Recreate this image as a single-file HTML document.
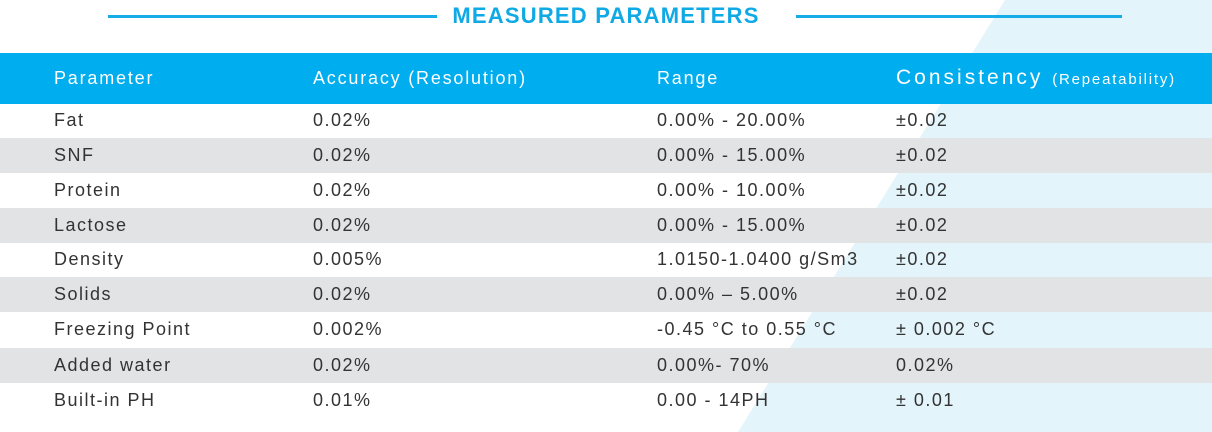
<!DOCTYPE html>
<html><head><meta charset="utf-8"><style>
body{margin:0;width:1212px;height:432px;overflow:hidden;background:#fff;font-family:"Liberation Sans",sans-serif;position:relative}
.bg{position:absolute;left:0;top:0;width:1212px;height:432px}
.title{position:absolute;top:3px;left:0;width:1212px;text-align:center;color:#0fa9e6;font-weight:bold;font-size:22px;letter-spacing:1.2px}
.line{position:absolute;top:15px;height:3px;background:#16ace8}
.hdr{position:absolute;left:0;top:53px;width:1212px;height:51px;background:#00adee}
.h{position:absolute;top:15px;color:#fff;font-size:18px;letter-spacing:1.8px}
.row{position:absolute;left:0;width:1212px;height:35px}
.row.g{background:#e2e3e5}
.c{position:absolute;top:7px;font-size:18px;color:#333;letter-spacing:1.5px}
</style></head><body>
<svg class="bg"><polygon points="1005,0 1212,0 1212,432 738,432" fill="#e3f4fb"/></svg>
<div class="line" style="left:108px;width:329px"></div>
<div class="line" style="left:796px;width:326px"></div>
<div class="title">MEASURED PARAMETERS</div>
<div class="hdr">
<span class="h" style="left:54px">Parameter</span>
<span class="h" style="left:313px">Accuracy (Resolution)</span>
<span class="h" style="left:657px">Range</span>
<span class="h" style="left:896px;font-size:21px;top:13px;letter-spacing:3px">Consistency <span style="font-size:15px;letter-spacing:1.8px">(Repeatability)</span></span>
</div>
<div id="rows"></div>
<script>
const params=["Fat","SNF","Protein","Lactose","Density","Solids","Freezing Point","Added water","Built-in PH"];
const accuracy=["0.02%","0.02%","0.02%","0.02%","0.005%","0.02%","0.002%","0.02%","0.01%"];
const ranges=["0.00% - 20.00%","0.00% - 15.00%","0.00% - 10.00%","0.00% - 15.00%","1.0150-1.0400 g/Sm3","0.00% – 5.00%","-0.45 °C to 0.55 °C","0.00%- 70%","0.00 - 14PH"];
const consistency=["±0.02","±0.02","±0.02","±0.02","±0.02","±0.02","± 0.002 °C","0.02%","± 0.01"];
const tops=[103,138,173,208,242,277,312,348,383];
const cont=document.getElementById('rows');
params.forEach((p,i)=>{
 const r=document.createElement('div');
 r.className='row'+(i%2?' g':'');
 r.style.top=tops[i]+'px';
 
 
 [[p,54],[accuracy[i],313],[ranges[i],657],[consistency[i],896]].forEach(([t,x])=>{
  const s=document.createElement('span');
  s.className='c';s.style.left=x+'px';s.textContent=t;
  
  
  r.appendChild(s);
 });
 cont.appendChild(r);
});
</script>
</body></html>
